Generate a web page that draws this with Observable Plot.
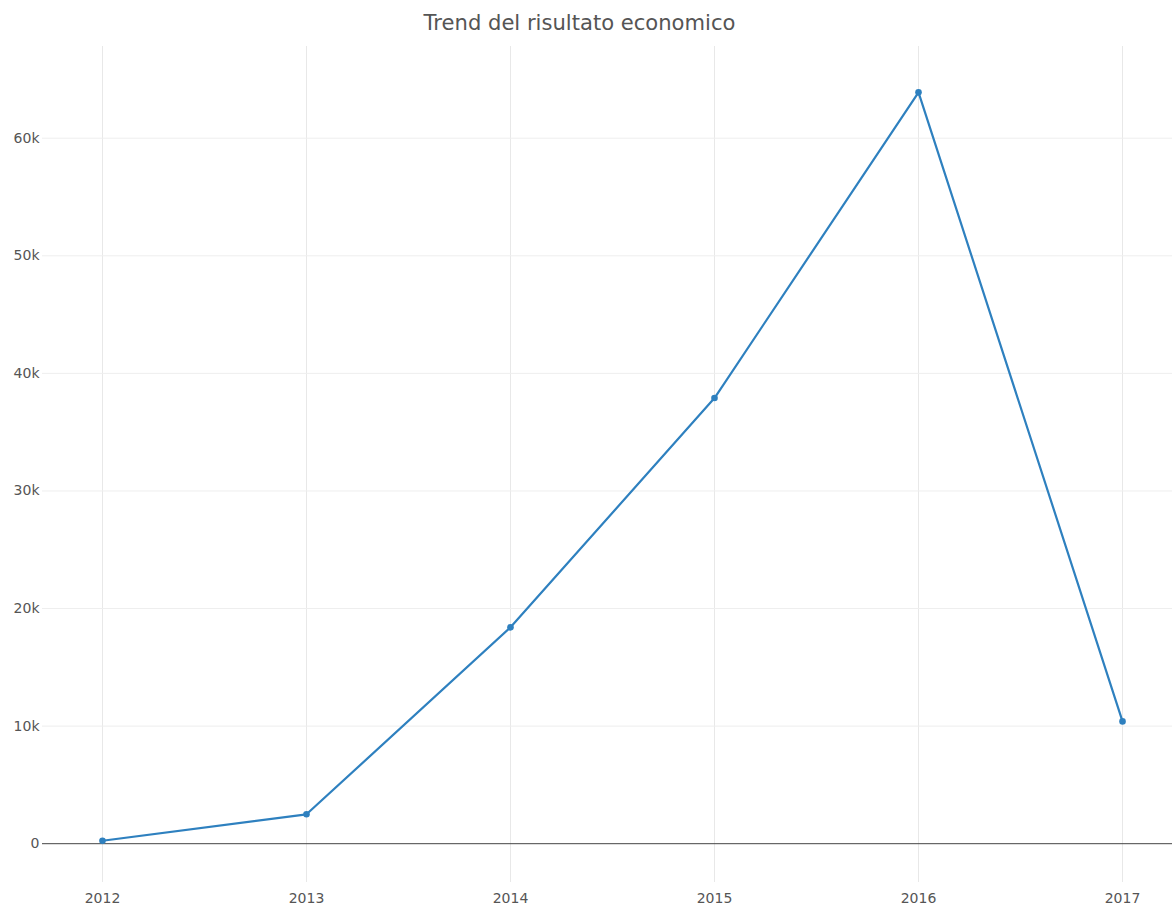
<!DOCTYPE html>
<html>
<head>
<meta charset="utf-8">
<script src="https://cdn.jsdelivr.net/npm/d3@7"></script>
<script src="https://cdn.jsdelivr.net/npm/@observablehq/plot@0.6"></script>
<style>
  body { margin: 0; background: #fff; font-family: "DejaVu Sans", sans-serif; }
  #title { position: relative; height: 46px; width: 1172px; }
  #title span { position: absolute; left: 579.5px; top: 10px; transform: translateX(-50%); font-size: 21.1px; color: #555; white-space: nowrap; }
  #chart svg { display: block; }
</style>
</head>
<body>
<div id="title"><span>Trend del risultato economico</span></div>
<div id="chart"></div>
<script>
const years = [2012, 2013, 2014, 2015, 2016, 2017];
const risultato = [250, 2500, 18400, 37900, 63900, 10400];
const yTicks = [0, 10000, 20000, 30000, 40000, 50000, 60000];
const xTicks = [2012, 2013, 2014, 2015, 2016, 2017];

const data = years.map((y, i) => ({anno: y, valore: risultato[i]}));
const color = "#2e80bf";

const chart = Plot.plot({
  width: 1172,
  height: 861,
  marginTop: 0,
  marginLeft: 42,
  marginRight: 0,
  marginBottom: 25,
  style: { fontFamily: "DejaVu Sans, sans-serif", fontSize: "14px", color: "#555", background: "#fff" },
  x: { domain: [2011.706, 2017.245], ticks: xTicks, tickFormat: d3.format("d"), label: null },
  y: { domain: [-3300, 67800], ticks: yTicks, tickFormat: d => d === 0 ? "0" : (d / 1000) + "k", label: null },
  marks: [
    Plot.gridX(xTicks, { stroke: "#e8e8e8", strokeOpacity: 1 }),
    Plot.gridY(yTicks.filter(d => d !== 0), { stroke: "#eeeeee", strokeOpacity: 1 }),
    Plot.ruleY([0], { stroke: "#444", strokeWidth: 1 }),
    Plot.axisX({ ticks: xTicks, tickSize: 0, tickPadding: 11, tickFormat: d3.format("d"), label: null, fill: "#555" }),
    Plot.axisY({ ticks: yTicks, tickSize: 0, tickPadding: 3, tickFormat: d => d === 0 ? "0" : (d / 1000) + "k", label: null, fill: "#555" }),
    Plot.line(data, { x: "anno", y: "valore", stroke: color, strokeWidth: 2.2 }),
    Plot.dot(data, { x: "anno", y: "valore", r: 3.3, fill: color, stroke: "none" })
  ]
});
document.getElementById("chart").appendChild(chart);
</script>
</body>
</html>
